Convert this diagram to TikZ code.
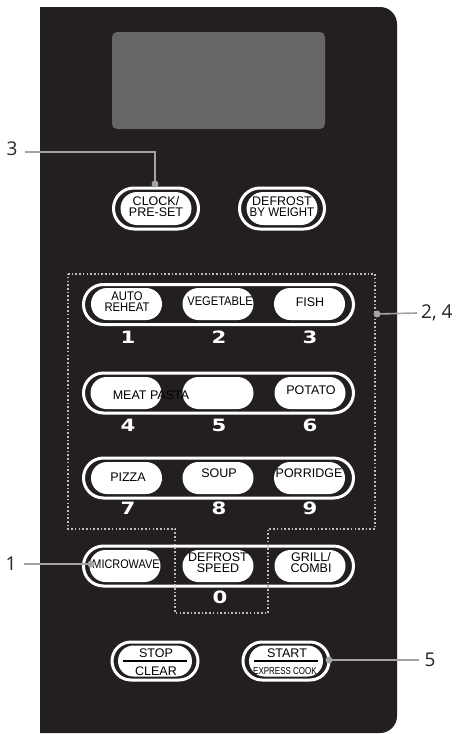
\documentclass[tikz,border=0pt]{standalone}
\usepackage{fontspec}
\usepackage{graphicx}
\setmainfont{Liberation Sans}
\newfontfamily\digitfamily{DejaVu Sans}
\newfontfamily\labelfamily{Open Sans}
\definecolor{panel}{HTML}{231F20}
\definecolor{screen}{HTML}{666666}
\definecolor{leadcol}{HTML}{A3A3A3}
\definecolor{dotcol}{HTML}{BDBDBD}
\newcommand{\sx}[2]{\scalebox{#1}[1]{#2}}
\begin{document}
\begin{tikzpicture}[x=1pt,y=-1pt,
  ring/.style={rectangle, draw=white, line width=3pt, fill=panel, inner sep=0pt},
  bigring/.style={ring, minimum width=85pt, minimum height=41pt, rounded corners=20.5pt},
  rowring/.style={ring, minimum width=270pt, minimum height=40pt, rounded corners=20pt},
  keypill/.style={rectangle, fill=white, inner sep=0pt, minimum width=71pt, minimum height=32pt, rounded corners=16pt},
  ktext/.style={font=\fontsize{12.5}{11}\selectfont, align=center, text=black, inner sep=0pt},
  digit/.style={font=\digitfamily\bfseries\fontsize{17}{17}\selectfont, text=white, inner sep=0pt},
  callout/.style={font=\labelfamily\fontsize{19}{19}\selectfont, text=black!85, inner sep=0pt},
  leadline/.style={draw=leadcol, line width=1.6pt},
  tipdot/.style={circle, fill=leadcol, inner sep=0pt, minimum size=7pt},
  dotline/.style={draw=dotcol, line width=1.6pt, dash pattern=on 1.6pt off 2.1pt}
]
\fill[white] (0,0) rectangle (464,734);
\useasboundingbox (0,0) rectangle (464,734);

% panel
\fill[panel] (40,733) -- (40,7) -- (380,7) arc[start angle=270, end angle=360, radius=17]
  -- (397,716) arc[start angle=0, end angle=90, radius=17] -- cycle;
% display
\fill[screen, rounded corners=5pt] (112,32) rectangle (325,129);

% top buttons
\node[bigring] (clockring) at (156,208.5) {};
\node[keypill, minimum height=33pt, rounded corners=16.5pt] (clockkey) at (clockring) {};
\node[ktext] (clocktxt) at (156,207) {CLOCK/\\PRE-SET};
\node[bigring] (defwring) at (282,208.5) {};
\node[keypill, minimum height=33pt, rounded corners=16.5pt] (defwkey) at (defwring) {};
\node[ktext] (defwtxt) at (282,207) {DEFROST\\\sx{0.92}{BY WEIGHT}};

% row 1
\node[rowring] (row1) at (218.5,304.5) {};
\node[keypill] (k1) at (126.5,304) {};
\node[keypill] (k2) at (218,304) {};
\node[keypill] (k3) at (309.5,304) {};
\node[ktext] (t1) at (127,302) {\sx{0.9}{AUTO}\\\sx{0.9}{REHEAT}};
\node[ktext] (t2) at (220,301) {\sx{0.89}{VEGETABLE}};
\node[ktext] (t3) at (310,302) {FISH};
% row 2
\node[rowring] (row2) at (218.5,393) {};
\node[keypill] (k4) at (126,393) {};
\node[keypill] (k5) at (218,393) {};
\node[keypill] (k6) at (310,393) {};
\node[ktext] (t4) at (151,395) {MEAT PASTA};
\node[ktext] (t6) at (311,390) {POTATO};
% row 3
\node[rowring] (row3) at (218.5,478) {};
\node[keypill] (k7) at (126.5,478) {};
\node[keypill] (k8) at (218,478) {};
\node[keypill] (k9) at (309.5,478) {};
\node[ktext] (t7) at (128,477) {PIZZA};
\node[ktext] (t8) at (219,473) {SOUP};
\node[ktext] (t9) at (309,473) {PORRIDGE};
% row 4
\node[rowring] (row4) at (218.5,566) {};
\node[keypill] (k10) at (125,566) {};
\node[keypill] (k0) at (218,566) {};
\node[keypill] (k11) at (310,566) {};
\node[ktext] (t10) at (126,564) {\sx{0.87}{MICROWAVE}};
\node[ktext] (t0) at (218,563) {DEFROST\\SPEED};
\node[ktext] (t11) at (311,563) {GRILL/\\COMBI};

% digits
\node[digit] (d1) at (128,337) {\sx{1.25}{1}};
\node[digit] (d2) at (219,337) {\sx{1.25}{2}};
\node[digit] (d3) at (310,337) {\sx{1.25}{3}};
\node[digit] (d4) at (128,425) {\sx{1.25}{4}};
\node[digit] (d5) at (219,425) {\sx{1.25}{5}};
\node[digit] (d6) at (310,425) {\sx{1.25}{6}};
\node[digit] (d7) at (128,508) {\sx{1.25}{7}};
\node[digit] (d8) at (219,508) {\sx{1.25}{8}};
\node[digit] (d9) at (310,508) {\sx{1.25}{9}};
\node[digit] (d0) at (220,597) {\sx{1.25}{0}};

% stop / start
\node[ring, minimum width=86pt, minimum height=38pt, rounded corners=19pt] (stopring) at (155,661) {};
\node[keypill, minimum width=74pt, minimum height=31pt, rounded corners=15.5pt] (stopkey) at (stopring) {};
\draw[black, line width=1.3pt] ([xshift=5pt]stopkey.west) -- ([xshift=-5pt]stopkey.east);
\node[ktext] (stoptxt) at (156,653) {STOP};
\node[ktext] (cleartxt) at (156,671) {CLEAR};
\node[ring, minimum width=86pt, minimum height=38pt, rounded corners=19pt] (startring) at (286,661) {};
\node[keypill, minimum width=74pt, minimum height=31pt, rounded corners=15.5pt] (startkey) at (startring) {};
\draw[black, line width=1.3pt] ([xshift=5pt]startkey.west) -- ([xshift=-5pt]startkey.east);
\node[ktext] (starttxt) at (287,653) {START};
\node[ktext, font=\fontsize{10}{10}\selectfont] (expresstxt) at (285,671) {\sx{0.8}{EXPRESS COOK}};

% dotted number-key outline
\draw[dotline] (68,274) -- (375,274) -- (375,529) -- (268,529) -- (268,613)
  -- (175,613) -- (175,529) -- (68,529) -- cycle;

% callouts
\node[callout] (c3) at (12,149) {3};
\node[callout] (c1) at (11,564) {1};
\node[callout] (c5) at (430,660) {5};
\node[callout, anchor=west] (c24) at (421,313) {2, 4};
\coordinate (tip3) at (155,184);
\coordinate (tip1) at (91,564);
\coordinate (tip5) at (329,660);
\coordinate (tip24) at (377,314);
\coordinate (bend3) at (155,152);
\draw[leadline] ([xshift=7pt]c3.east |- bend3) -- (bend3) -- (tip3);
\draw[leadline] ([xshift=7pt]c1.east) -- (tip1);
\draw[leadline] ([xshift=-5pt]c5.west) -- (tip5);
\draw[leadline] ([xshift=-4pt]c24.west) -- (tip24);
\node[tipdot] (dot3) at (tip3) {};
\node[tipdot] (dot1) at (tip1) {};
\node[tipdot] (dot5) at (tip5) {};
\node[tipdot] (dot24) at (tip24) {};
\end{tikzpicture}
\end{document}
